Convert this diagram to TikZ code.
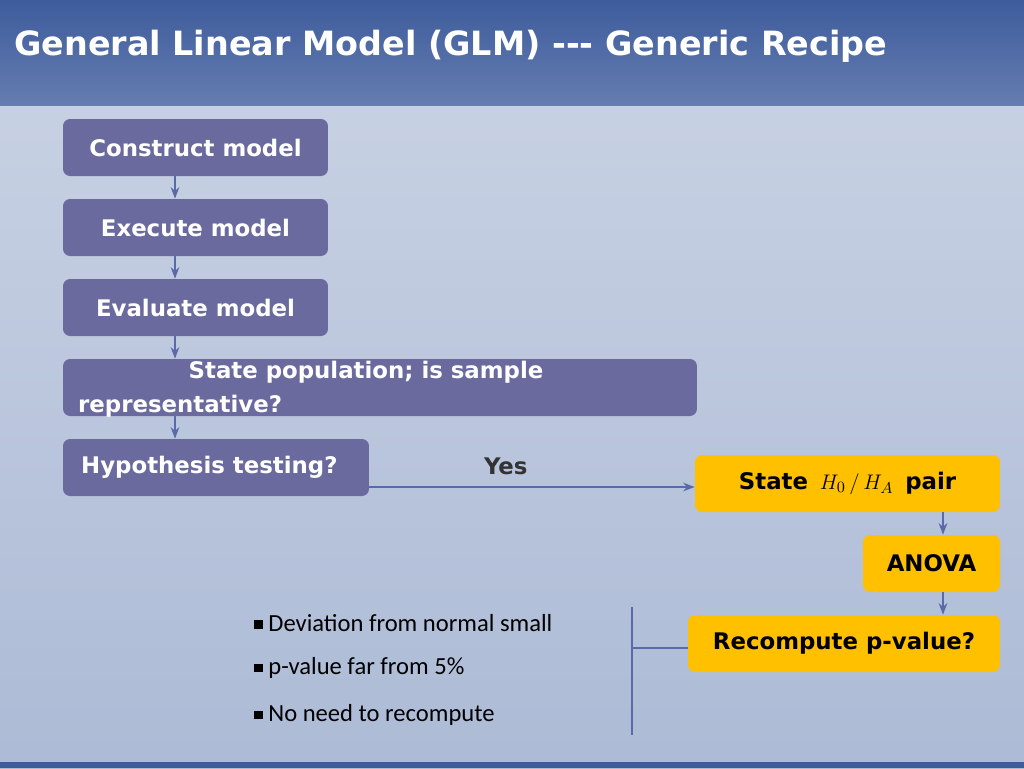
\documentclass[tikz,border=0pt]{standalone}
\usepackage{fontspec}
\setmainfont{DejaVu Sans}
\newfontfamily\bulletfont{Carlito}
\usetikzlibrary{positioning, arrows.meta}
\definecolor{titleblue}{HTML}{3E5C9C}
\definecolor{bgblue}{HTML}{B9C5DC}
\definecolor{boxpurple}{HTML}{6A6A9E}
\definecolor{boxyellow}{HTML}{FFC000}
\definecolor{linkblue}{HTML}{5A6AA8}
\newcommand{\sqbullet}{\rule[0.1em]{0.35em}{0.35em}}
\begin{document}
\begin{tikzpicture}[
    x=0.02cm, y=-0.02cm,
    >=Stealth,
    font=\bfseries\fontsize{13}{15}\selectfont
]

    % Styles
    \tikzset{
        stepbox/.style={fill=boxpurple, text=white, rounded corners=4pt, inner sep=0pt, minimum height=1.14cm},
        goldbox/.style={fill=boxyellow, text=black, rounded corners=4pt, inner sep=0pt, minimum height=1.14cm},
        link/.style={->, draw=linkblue, thick},
        bullet/.style={anchor=west, font=\bulletfont\fontsize{14}{16}\selectfont}
    }

    % Background and title
    \useasboundingbox (0,0) rectangle (1024,768);
    \shade[top color=bgblue!80!white, bottom color=bgblue!90!titleblue] (0,105) rectangle (1024,768);
    \shade[top color=titleblue, bottom color=titleblue!80!white] (0,0) rectangle (1024,105);
    \fill[titleblue] (0,762) rectangle (1024,768);
    \node[anchor=west, text=white, font=\bfseries\fontsize{19}{24}\selectfont] (title) at (8,46)
        {General Linear Model (GLM) -{}-{}- Generic Recipe};

    % Left column
    \node[stepbox, minimum width=5.3cm] (construct) at (195.5,147.5) {Construct model};
    \node[stepbox, minimum width=5.3cm] (execute) at (195.5,227.5) {Execute model};
    \node[stepbox, minimum width=5.3cm] (evaluate) at (195.5,307.5) {Evaluate model};
    \node[stepbox, minimum width=12.68cm] (population) at (380,387.5) {};
    \node[text=white] (poptext1) at (366,372) {State population; is sample};
    \node[anchor=west, text=white] (poptext2) at (72,406) {representative?};
    \node[stepbox, minimum width=6.12cm] (hypothesis) at (216,467.5) {};
    \node[anchor=west, text=white] (hyptext) at (75,467) {Hypothesis testing?};

    \draw[link] (construct.south -| 175,0) -- (execute.north -| 175,0);
    \draw[link] (execute.south -| 175,0) -- (evaluate.north -| 175,0);
    \draw[link] (evaluate.south -| 175,0) -- (population.north -| 175,0);
    \draw[link] (population.south -| 175,0) -- (hypothesis.north -| 175,0);

    % Right column
    \node[goldbox, minimum width=6.1cm] (statepair) at (847.5,483.5)
        {State \,$H_0\,/\,H_A$\, pair};
    \node[goldbox, minimum width=2.74cm] (anova) at (931.5,563.5) {ANOVA};
    \node[goldbox, minimum width=6.24cm] (recompute) at (844,643.5) {Recompute p-value?};

    \coordinate (hypout) at (369,487);
    \draw[link] (hypout) -- (hypout -| statepair.west) node[pos=0.42, above=3pt, text=black!80] {Yes};
    \draw[link] (statepair.south -| 943,0) -- (anova.north -| 943,0);
    \draw[link] (anova.south -| 943,0) -- (recompute.north -| 943,0);

    % Bracket and notes
    \coordinate (brtop) at (632,607);
    \coordinate (brbot) at (632,735);
    \draw[linkblue, thick] (brtop) -- (brbot);
    \draw[linkblue, thick] (632,648) -- (recompute.west |- 0,648);
    \node[bullet] (note1) at (248,623) {\sqbullet\ Deviation from normal small};
    \node[bullet] (note2) at (248,668) {\sqbullet\ p-value far from 5\%};
    \node[bullet] (note3) at (248,715) {\sqbullet\ No need to recompute};

\end{tikzpicture}
\end{document}
